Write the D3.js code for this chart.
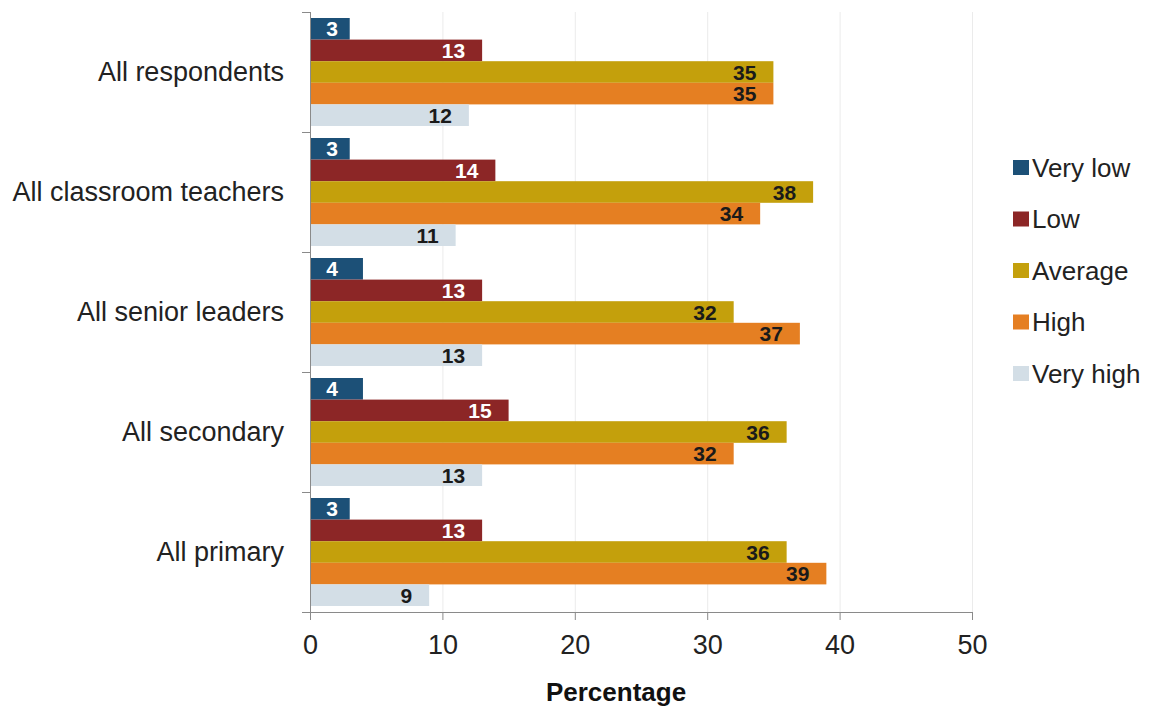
<!DOCTYPE html>
<html><head><meta charset="utf-8">
<script src="https://cdn.jsdelivr.net/npm/d3@7"></script>
<style>body{margin:0;background:#fff}svg{display:block}</style>
</head><body>
<script>
const categories = ["All respondents","All classroom teachers","All senior leaders","All secondary","All primary"];
const seriesNames = ["Very low","Low","Average","High","Very high"];
const veryLow  = [3,3,4,4,3];
const low      = [13,14,13,15,13];
const average  = [35,38,32,36,36];
const high     = [35,34,37,32,39];
const veryHigh = [12,11,13,13,9];
const xTicks = [0,10,20,30,40,50];
const colors = ["#1c5077","#8c2626","#c4a00c","#e57f22","#d3dee6"];
const labelColors = ["#ffffff","#ffffff","#1a1a1a","#1a1a1a","#1a1a1a"];
const seriesValues = [veryLow, low, average, high, veryHigh];

const FONT = "Liberation Sans, Arial, sans-serif";
const W = 1154, H = 708;
const svg = d3.select("body").append("svg").attr("width", W).attr("height", H);
const x = d3.scaleLinear().domain([0,50]).range([310,972]);
const y = d3.scaleBand().domain(categories).range([12,612]);
const ys = d3.scaleBand().domain(seriesNames).range([6,114]);

// gridlines
svg.append("g").selectAll("line").data(xTicks.slice(1)).join("line")
  .attr("x1", d=>x(d)+0.5).attr("x2", d=>x(d)+0.5).attr("y1", 12).attr("y2", 612)
  .attr("stroke", "#ebebeb").attr("stroke-width", 1);

// bars
const rows = [];
categories.forEach((c,i)=>seriesNames.forEach((s,j)=>rows.push({c, s, j, v: seriesValues[j][i]})));
svg.append("g").selectAll("rect").data(rows).join("rect")
  .attr("x", x(0)).attr("y", d=>y(d.c)+ys(d.s))
  .attr("width", d=>x(d.v)-x(0)).attr("height", ys.bandwidth())
  .attr("fill", d=>colors[d.j]);

svg.append("g").selectAll("text").data(rows).join("text")
  .attr("x", d=> d.v < 5 ? x(0)+22 : x(d.v)-17)
  .attr("text-anchor", d=> d.v < 5 ? "middle" : "end")
  .attr("y", d=>y(d.c)+ys(d.s)+ys.bandwidth()/2)
  .attr("dy","0.36em")
  .attr("font-family",FONT)
  .attr("font-weight","bold").attr("font-size","21px")
  .attr("fill", d=>labelColors[d.j])
  .text(d=>d.v);

// x axis
const xAxis = d3.axisBottom(x).tickValues(xTicks).tickSize(8).tickPadding(15).tickSizeOuter(0);
const gx = svg.append("g").attr("transform","translate(0,612)").call(xAxis);
gx.select(".domain").attr("stroke","#8a8a8a").attr("d","M302,0.5H972");
gx.selectAll(".tick line").attr("stroke","#8a8a8a");
gx.selectAll("text").attr("font-family",FONT)
  .attr("font-size","27px").attr("fill","#222");

// y axis
const gy = svg.append("g");
gy.append("line").attr("x1",310.5).attr("x2",310.5).attr("y1",12).attr("y2",612).attr("stroke","#8a8a8a");
const bounds = categories.map(c=>y(c)).concat([y.range()[1]]);
gy.selectAll("line.t").data(bounds).join("line").attr("class","t")
  .attr("x1",302).attr("x2",310).attr("y1",d=>d+0.5).attr("y2",d=>d+0.5).attr("stroke","#8a8a8a");
gy.selectAll("text").data(categories).join("text")
  .attr("x",284).attr("y",d=>y(d)+y.bandwidth()/2).attr("dy","0.35em")
  .attr("text-anchor","end")
  .attr("font-family",FONT).attr("font-size","27px").attr("fill","#222")
  .text(d=>d);

// x title
svg.append("text").attr("x",616).attr("y",701).attr("text-anchor","middle")
  .attr("font-family",FONT).attr("font-weight","bold")
  .attr("font-size","26px").attr("fill","#111").text("Percentage");

// legend
const lg = svg.append("g").selectAll("g").data(seriesNames).join("g")
  .attr("transform",(d,i)=>`translate(1013,${167.5 + i*51.5})`);
lg.append("rect").attr("x",0).attr("y",-7.5).attr("width",16).attr("height",15).attr("fill",(d,i)=>colors[i]);
lg.append("text").attr("x",19).attr("y",0).attr("dy","0.35em")
  .attr("font-family",FONT).attr("font-size","26px").attr("fill","#222")
  .text(d=>d);
</script>
</body></html>
